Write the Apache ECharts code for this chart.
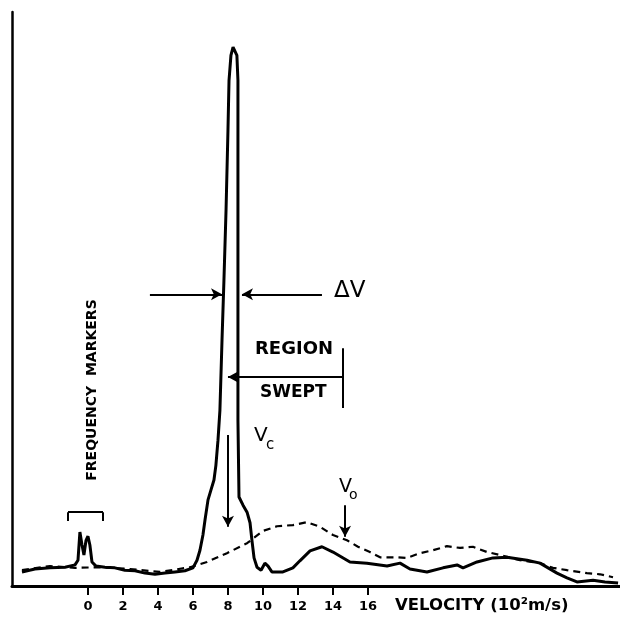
<!DOCTYPE html>
<html>
<head>
<meta charset="utf-8">
<script src="https://cdn.jsdelivr.net/npm/echarts@6/dist/echarts.min.js"></script>
<style>
  html, body { margin: 0; padding: 0; background: #ffffff; }
  #chart { width: 620px; height: 618px; }
</style>
</head>
<body>
<div id="chart"></div>
<script>
// Velocity axis (10^2 m/s) tick labels
const tickValues = [0, 2, 4, 6, 8, 10, 12, 14, 16];

// Solid trace: velocity (10^2 m/s), intensity (arb. units)
const solidVelocity = [-3.77,-3.03,-2.17,-1.31,-0.74,-0.57,-0.46,-0.34,-0.23,-0.11,0,0.11,0.23,0.46,0.97,1.54,2.11,2.69,3.26,3.83,4.4,4.97,5.54,6.0,6.23,6.4,6.57,6.69,6.86,7.03,7.2,7.31,7.43,7.54,7.66,7.77,7.89,8.0,8.06,8.17,8.29,8.4,8.51,8.57,8.57,8.57,8.57,8.63,8.86,9.09,9.26,9.37,9.49,9.66,9.89,10.11,10.29,10.51,11.14,11.71,12.11,12.69,13.37,14.0,14.97,15.94,17.09,17.83,18.4,19.37,20.29,21.09,21.43,22.23,23.14,23.94,25.09,25.83,26.8,27.37,27.94,28.86,29.54,30.29];
const solidIntensity = [2.4,2.9,3.1,3.2,3.6,4.4,9.2,7.0,5.3,7.8,8.5,7.0,4.1,3.4,3.2,3.1,2.7,2.6,2.2,2.0,2.2,2.4,2.6,3.1,4.4,6.1,8.7,11.3,14.7,16.4,18.1,20.6,24.9,30.0,42.0,52.2,64.2,77.8,86.3,90.6,92.0,91.8,90.6,86.3,74.4,55.6,28.3,15.2,13.8,12.6,10.8,7.8,4.8,3.2,2.7,3.9,3.4,2.4,2.4,3.1,4.3,6.0,6.7,5.8,4.1,3.9,3.4,3.9,2.9,2.4,3.1,3.6,3.1,4.1,4.8,4.9,4.4,3.9,2.2,1.4,0.7,1.0,0.7,0.5];

// Dashed trace: velocity (10^2 m/s), intensity (arb. units)
const dashedVelocity = [-3.77,-2.17,-0.74,0.69,2.4,4.11,5.83,6.8,7.94,9.09,10.0,10.8,11.71,12.51,13.26,14.0,14.8,15.43,16.11,16.69,17.66,18.23,18.97,19.71,20.51,21.26,22.0,22.8,23.54,24.69,25.83,26.57,27.37,28.51,29.26,30.0];
const dashedIntensity = [2.7,3.4,3.1,3.2,2.9,2.4,3.2,4.1,5.6,7.3,9.4,10.2,10.4,10.9,10.1,8.7,7.8,6.7,5.8,4.9,4.9,4.8,5.6,6.1,6.8,6.5,6.7,5.8,5.3,4.4,3.9,3.1,2.7,2.2,2.0,1.5];

// Annotation anchors (data coordinates)
const vcArrow = { x: 8.0, from: 25.8, to: 10.1 };
const v0Arrow = { x: 14.69, from: 13.8, to: 8.4 };
const deltaV = { y: 49.8, leftFrom: 3.54, leftTo: 7.66, rightFrom: 13.37, rightTo: 8.8 };
const swept = { y: 35.7, from: 14.57, to: 8.0, barTop: 40.6, barBottom: 30.4 };
const bracket = { x1: -1.14, x2: 0.86, y: 12.6, legY: 11.1 };

const solidData = solidVelocity.map((v, i) => [v, solidIntensity[i]]);
const dashedData = dashedVelocity.map((v, i) => [v, dashedIntensity[i]]);

function seg(x1, y1, x2, y2, arrow) {
  return [
    { coord: [x1, y1], symbol: 'none' },
    { coord: [x2, y2], symbol: arrow ? 'arrow' : 'none' }
  ];
}

const FONT = 'DejaVu Sans';
const chart = echarts.init(document.getElementById('chart'), null, { renderer: 'canvas' });
chart.setOption({
  animation: false,
  backgroundColor: '#ffffff',
  grid: { left: 12, right: 0, top: 12, bottom: 32, containLabel: false },
  xAxis: {
    type: 'value',
    min: -4.34,
    max: 30.4,
    axisLine: { show: true, onZero: false, lineStyle: { color: '#000', width: 3 } },
    axisTick: { show: true, customValues: tickValues, length: 9, lineStyle: { color: '#000', width: 2 } },
    axisLabel: { show: true, customValues: tickValues, color: '#000', fontFamily: FONT, fontWeight: 'bold', fontSize: 13, margin: 14 },
    splitLine: { show: false }
  },
  yAxis: {
    type: 'value',
    min: 0,
    max: 98,
    axisLine: { show: true, onZero: false, lineStyle: { color: '#000', width: 2.5 } },
    axisTick: { show: false },
    axisLabel: { show: false },
    splitLine: { show: false }
  },
  series: [
    {
      type: 'line',
      data: dashedData,
      showSymbol: false,
      smooth: false,
      lineStyle: { color: '#000', width: 2.2, type: [7, 5] },
      z: 2
    },
    {
      type: 'line',
      data: solidData,
      showSymbol: false,
      smooth: false,
      lineStyle: { color: '#000', width: 3 },
      z: 3,
      markLine: {
        silent: true,
        symbolSize: [9, 11],
        label: { show: false },
        lineStyle: { color: '#000', width: 2, type: 'solid' },
        emphasis: { disabled: true },
        data: [
          seg(vcArrow.x, vcArrow.from, vcArrow.x, vcArrow.to, true),
          seg(v0Arrow.x, v0Arrow.from, v0Arrow.x, v0Arrow.to, true),
          seg(deltaV.leftFrom, deltaV.y, deltaV.leftTo, deltaV.y, true),
          seg(deltaV.rightFrom, deltaV.y, deltaV.rightTo, deltaV.y, true),
          seg(swept.from, swept.y, swept.to, swept.y, true),
          seg(swept.from, swept.barTop, swept.from, swept.barBottom, false),
          seg(bracket.x1, bracket.y, bracket.x2, bracket.y, false),
          seg(bracket.x1, bracket.y, bracket.x1, bracket.legY, false),
          seg(bracket.x2, bracket.y, bracket.x2, bracket.legY, false)
        ]
      }
    }
  ],
  graphic: [
    { type: 'text', left: 334, top: 280, style: { text: 'ΔV', fill: '#000', font: '23px "DejaVu Sans"' } },
    { type: 'text', left: 255, top: 340, style: { text: 'REGION', fill: '#000', font: 'bold 18px "DejaVu Sans"' } },
    { type: 'text', left: 260, top: 384, style: { text: 'SWEPT', fill: '#000', font: 'bold 17px "DejaVu Sans"' } },
    { type: 'text', left: 254, top: 426, style: { text: 'V', fill: '#000', font: '20px "DejaVu Sans"' } },
    { type: 'text', left: 266, top: 438, style: { text: 'c', fill: '#000', font: '15px "DejaVu Sans"' } },
    { type: 'text', left: 339, top: 478, style: { text: 'V', fill: '#000', font: '19px "DejaVu Sans"' } },
    { type: 'text', left: 349, top: 488, style: { text: 'o', fill: '#000', font: '14px "DejaVu Sans"' } },
    { type: 'text', x: 92, y: 390, rotation: Math.PI / 2, style: { text: 'FREQUENCY  MARKERS', fill: '#000', font: 'bold 14px "DejaVu Sans"', align: 'center', verticalAlign: 'middle' } },
    { type: 'text', left: 395, top: 597, style: { text: 'VELOCITY (10²m/s)', fill: '#000', font: 'bold 16.5px "DejaVu Sans"' } }
  ]
});
</script>
</body>
</html>
